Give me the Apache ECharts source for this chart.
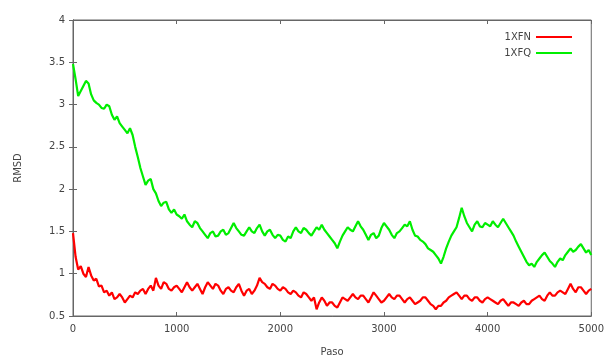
<!DOCTYPE html>
<html>
<head>
<meta charset="utf-8">
<script src="https://cdn.jsdelivr.net/npm/echarts@6/dist/echarts.min.js"></script>
<style>
  html, body { margin: 0; padding: 0; background: #fff; }
  #chart { width: 607px; height: 362px; }
</style>
</head>
<body>
<div id="chart"></div>
<script>
// paso 0..5000 cada 25
var pasoStep = 25;
var xTicks = [0, 1000, 2000, 3000, 4000, 5000];
var yTicks = [0.5, 1, 1.5, 2, 2.5, 3, 3.5, 4];

var rmsd1XFN = [
  1.48, 1.20, 1.05, 1.09, 1.00, 0.96, 1.08, 0.98, 0.92, 0.94,
  0.85, 0.86, 0.78, 0.80, 0.74, 0.78, 0.70, 0.72, 0.76, 0.72,
  0.66, 0.70, 0.74, 0.72, 0.78, 0.76, 0.80, 0.82, 0.76, 0.82,
  0.86, 0.80, 0.95, 0.86, 0.82, 0.90, 0.88, 0.82, 0.80, 0.84,
  0.86, 0.82, 0.78, 0.84, 0.90, 0.84, 0.80, 0.84, 0.88, 0.82,
  0.76, 0.84, 0.90, 0.86, 0.82, 0.88, 0.86, 0.80, 0.76, 0.82,
  0.84, 0.80, 0.78, 0.84, 0.88, 0.80, 0.74, 0.80, 0.82, 0.76,
  0.80, 0.86, 0.95, 0.90, 0.88, 0.84, 0.82, 0.88, 0.86, 0.82,
  0.80, 0.84, 0.82, 0.78, 0.76, 0.80, 0.78, 0.74, 0.72, 0.78,
  0.76, 0.72, 0.68, 0.72, 0.58, 0.66, 0.72, 0.68, 0.62, 0.66,
  0.66, 0.62, 0.60, 0.66, 0.72, 0.70, 0.68, 0.72, 0.76, 0.72,
  0.70, 0.74, 0.74, 0.70, 0.66, 0.72, 0.78, 0.74, 0.70, 0.66,
  0.68, 0.72, 0.76, 0.72, 0.70, 0.74, 0.74, 0.70, 0.66, 0.70,
  0.72, 0.68, 0.64, 0.66, 0.68, 0.72, 0.72, 0.68, 0.64, 0.62,
  0.58, 0.62, 0.62, 0.66, 0.68, 0.72, 0.74, 0.76, 0.78, 0.74,
  0.70, 0.74, 0.74, 0.70, 0.68, 0.72, 0.72, 0.68, 0.66, 0.70,
  0.72, 0.70, 0.68, 0.66, 0.64, 0.68, 0.70, 0.66, 0.62, 0.66,
  0.66, 0.64, 0.62, 0.66, 0.68, 0.64, 0.64, 0.68, 0.70, 0.72,
  0.74, 0.70, 0.68, 0.74, 0.78, 0.74, 0.74, 0.78, 0.80, 0.78,
  0.76, 0.82, 0.88, 0.82, 0.78, 0.84, 0.84, 0.80, 0.76, 0.80,
  0.82
];

var rmsd1XFQ = [
  3.48, 3.30, 3.10, 3.16, 3.22, 3.28, 3.25, 3.12, 3.05, 3.02,
  3.00, 2.96, 2.95, 3.00, 2.98, 2.88, 2.82, 2.86, 2.78, 2.74,
  2.70, 2.66, 2.72, 2.64, 2.50, 2.38, 2.25, 2.15, 2.05, 2.10,
  2.12, 2.00, 1.95, 1.86, 1.80, 1.84, 1.85, 1.76, 1.72, 1.76,
  1.70, 1.68, 1.65, 1.70, 1.62, 1.58, 1.55, 1.62, 1.60, 1.54,
  1.50, 1.46, 1.42, 1.48, 1.50, 1.44, 1.45, 1.50, 1.52, 1.46,
  1.48, 1.54, 1.60, 1.54, 1.50, 1.46, 1.45, 1.50, 1.55, 1.50,
  1.48, 1.54, 1.58, 1.50, 1.45, 1.50, 1.52, 1.46, 1.42, 1.46,
  1.45, 1.40, 1.38, 1.44, 1.42, 1.50, 1.55, 1.50, 1.48, 1.54,
  1.52, 1.48, 1.45, 1.50, 1.55, 1.52, 1.58, 1.52, 1.48, 1.44,
  1.40, 1.36, 1.30, 1.38, 1.45, 1.50, 1.55, 1.52, 1.50, 1.56,
  1.62, 1.56, 1.52, 1.46, 1.40, 1.46, 1.48, 1.42, 1.45, 1.54,
  1.60, 1.56, 1.52, 1.46, 1.42, 1.48, 1.50, 1.54, 1.58, 1.56,
  1.62, 1.52, 1.45, 1.44, 1.40, 1.38, 1.35, 1.30, 1.28, 1.26,
  1.22, 1.18, 1.12, 1.20, 1.30, 1.38, 1.45, 1.50, 1.55, 1.66,
  1.78, 1.68, 1.60, 1.55, 1.50, 1.58, 1.62, 1.56, 1.55, 1.60,
  1.58, 1.56, 1.62, 1.58, 1.55, 1.60, 1.65, 1.60, 1.55, 1.50,
  1.45, 1.38, 1.32, 1.26, 1.20, 1.14, 1.10, 1.12, 1.08, 1.14,
  1.18, 1.22, 1.25, 1.20, 1.15, 1.12, 1.08, 1.14, 1.18, 1.16,
  1.22, 1.26, 1.30, 1.26, 1.28, 1.32, 1.35, 1.30, 1.25, 1.28,
  1.22
];

function toPoints(arr) {
  return arr.map(function (v, i) { return [i * pasoStep, v]; });
}

var myChart = echarts.init(document.getElementById("chart"));
var labelStyle = { color: "#444", fontSize: 10, fontFamily: "DejaVu Sans" };
var lineStyle = { color: "#666", width: 1 };

myChart.setOption({
  animation: false,
  backgroundColor: "#fff",
  textStyle: { fontFamily: "DejaVu Sans" },
  grid: {
    left: 73, right: 15, top: 20, bottom: 45,
    show: true, borderColor: "#666", borderWidth: 1
  },
  legend: {
    orient: "vertical",
    right: 30,
    top: 27,
    align: "right",
    itemWidth: 36,
    itemHeight: 2,
    itemGap: 6,
    icon: "rect",
    textStyle: { color: "#444", fontSize: 10, fontFamily: "DejaVu Sans" },
    data: ["1XFN", "1XFQ"]
  },
  xAxis: [
    {
      type: "value", min: xTicks[0], max: xTicks[xTicks.length - 1], interval: 1000,
      name: "Paso", nameLocation: "middle", nameGap: 31,
      nameTextStyle: labelStyle,
      axisLine: { show: true, lineStyle: lineStyle },
      axisTick: { show: true, inside: true, length: 4, lineStyle: lineStyle },
      axisLabel: Object.assign({ margin: 8, formatter: function (v) { return String(v); } }, labelStyle),
      splitLine: { show: false }
    },
    {
      type: "value", position: "top", min: 0, max: 5000, interval: 1000,
      axisLine: { show: true, lineStyle: lineStyle },
      axisTick: { show: true, inside: true, length: 4, lineStyle: lineStyle },
      axisLabel: { show: false },
      splitLine: { show: false }
    }
  ],
  yAxis: [
    {
      type: "value", min: yTicks[0], max: yTicks[yTicks.length - 1], interval: 0.5,
      name: "RMSD", nameLocation: "middle", nameGap: 50, nameRotate: 90,
      nameTextStyle: labelStyle,
      axisLine: { show: true, lineStyle: lineStyle },
      axisTick: { show: true, inside: true, length: 4, lineStyle: lineStyle },
      axisLabel: Object.assign({ margin: 8 }, labelStyle),
      splitLine: { show: false }
    },
    {
      type: "value", position: "right", min: 0.5, max: 4, interval: 0.5,
      axisLine: { show: true, lineStyle: lineStyle },
      axisTick: { show: true, inside: true, length: 4, lineStyle: lineStyle },
      axisLabel: { show: false },
      splitLine: { show: false }
    }
  ],
  series: [
    {
      name: "1XFN", type: "line", showSymbol: false, symbol: "none",
      color: "#ff0000",
      lineStyle: { color: "#ff0000", width: 2.2 },
      data: toPoints(rmsd1XFN)
    },
    {
      name: "1XFQ", type: "line", showSymbol: false, symbol: "none",
      color: "#00ee00",
      lineStyle: { color: "#00ee00", width: 2.2 },
      data: toPoints(rmsd1XFQ)
    }
  ]
});
</script>
</body>
</html>
